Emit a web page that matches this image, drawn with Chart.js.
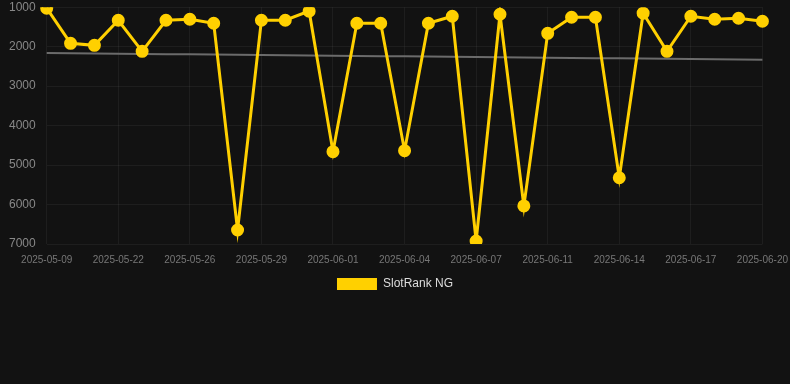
<!DOCTYPE html>
<html>
<head>
<meta charset="utf-8">
<script src="https://cdn.jsdelivr.net/npm/chart.js@4/dist/chart.umd.min.js"></script>
<style>
html,body{margin:0;padding:0;background:#121212;}
#wrap{position:relative;width:790px;height:300px;}
</style>
</head>
<body>
<div id="wrap"><canvas id="c"></canvas></div>
<script>
const categories = ["2025-05-09","2025-05-20","2025-05-21","2025-05-22","2025-05-23","2025-05-25","2025-05-26","2025-05-27","2025-05-28","2025-05-29","2025-05-30","2025-05-31","2025-06-01","2025-06-02","2025-06-03","2025-06-04","2025-06-05","2025-06-06","2025-06-07","2025-06-09","2025-06-10","2025-06-11","2025-06-12","2025-06-13","2025-06-14","2025-06-15","2025-06-16","2025-06-17","2025-06-18","2025-06-19","2025-06-20"];
const rankValues = [1025,1915,1966,1330,2119,1330,1305,1407,6645,1330,1330,1100,4661,1407,1407,4636,1407,1229,6924,1178,6034,1661,1254,1254,5322,1152,2119,1229,1305,1280,1356];
const seriesName = "SlotRank NG";

// least-squares trend derived from the series
const n = rankValues.length;
let sx=0, sy=0, sxy=0, sxx=0;
rankValues.forEach((v,i)=>{sx+=i; sy+=v; sxy+=i*v; sxx+=i*i;});
const slope = (n*sxy - sx*sy)/(n*sxx - sx*sx);
const icpt = (sy - slope*sx)/n;
const trendValues = rankValues.map((v,i)=> icpt + slope*i);

new Chart(document.getElementById('c'), {
  type: 'line',
  data: {
    labels: categories,
    datasets: [
      {
        label: seriesName,
        data: rankValues,
        borderColor: '#FFD000',
        backgroundColor: '#FFD000',
        borderWidth: 3,
        pointRadius: 5,
        pointBackgroundColor: '#FFD000',
        pointBorderColor: '#FFD000',
        tension: 0,
        order: 1
      },
      {
        label: 'trend',
        data: trendValues,
        borderColor: '#6b6b6b',
        borderWidth: 2,
        pointRadius: 0,
        tension: 0,
        order: 2
      }
    ]
  },
  options: {
    responsive: true,
    maintainAspectRatio: false,
    animation: false,
    layout: { autoPadding: false, padding: 0 },
    scales: {
      x: {
        grid: { color: 'rgba(255,255,255,0.05)', drawTicks: true, tickLength: 8, tickColor: 'rgba(0,0,0,0)' },
        border: { display: false },
        ticks: { color: '#777', font: { size: 10, family: 'Arial, Liberation Sans, sans-serif' }, maxRotation: 0, autoSkip: true, maxTicksLimit: 11, padding: 2 }
      },
      y: {
        reverse: true,
        min: 1000,
        max: 7000,
        afterFit: (s) => { s.width += 9; },
        grid: { color: 'rgba(255,255,255,0.05)', drawTicks: true, tickLength: 11, tickColor: 'rgba(0,0,0,0)' },
        border: { display: false },
        ticks: { color: '#888', font: { size: 12, family: 'Arial, Liberation Sans, sans-serif' }, stepSize: 1000, padding: 0, callback: (v) => String(v) }
      }
    },
    plugins: {
      legend: {
        position: 'bottom',
        labels: {
          color: '#ddd',
          padding: 10,
          font: { size: 12, family: 'Arial, Liberation Sans, sans-serif' },
          generateLabels: (chart) => Chart.defaults.plugins.legend.labels.generateLabels(chart)
            .filter(l => l.text !== 'trend')
            .map(l => Object.assign(l, { lineWidth: 0 }))
        }
      },
      tooltip: { enabled: false }
    }
  }
});
</script>
</body>
</html>
